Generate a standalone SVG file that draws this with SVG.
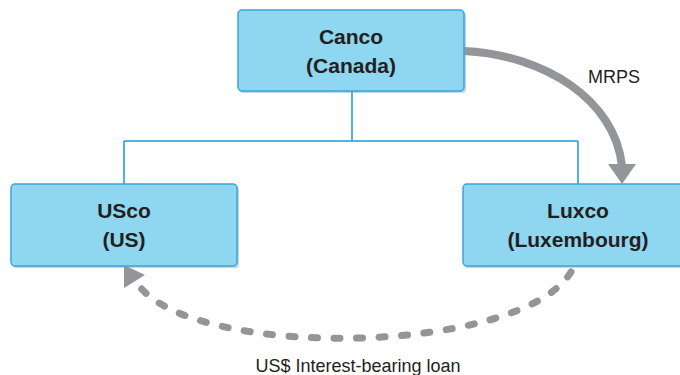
<svg xmlns="http://www.w3.org/2000/svg" width="680" height="375" viewBox="0 0 680 375">
<style>
.box{fill:#8fd6f0;stroke:#36a6dc;stroke-width:1.5}
.shadow{fill:#7f9fb4;opacity:0.45}
.t{font-family:"Liberation Sans",Arial,sans-serif;font-weight:bold;font-size:21px;fill:#231f20;text-anchor:middle}
.lbl{font-family:"Liberation Sans",Arial,sans-serif;font-size:18px;fill:#231f20;text-anchor:middle}
.tree{fill:none;stroke:#1a9ad6;stroke-width:1.5}
.arr{fill:none;stroke:#939598;stroke-width:8}
.dash{fill:none;stroke:#939598;stroke-width:7;stroke-dasharray:6 16.5;stroke-linecap:round}
.head{fill:#939598}
</style>
<g id="connectors">
<path class="tree" d="M352 91 V141 M124 141 H578 M124 141 V184 M578 141 V184"/>
<path class="arr" d="M464 51 C545 55 615 100 622 166"/>
<polygon class="head" points="608,164 636,164 622,184"/>
<path class="dash" d="M571 272 C520 355 200 360 140 287"/>
<polygon class="head" points="124,265 145,275 124,288"/>
<text class="lbl" x="614" y="83">MRPS</text>
<text class="lbl" x="358" y="372">US$ Interest-bearing loan</text>
</g>
<g id="canco">
<rect class="shadow" x="239" y="12" width="227" height="81" rx="4"/>
<rect class="box" x="238" y="10" width="226" height="81" rx="4"/>
<text class="t" x="351" y="44">Canco</text>
<text class="t" x="351" y="73">(Canada)</text>
</g>
<g id="usco">
<rect class="shadow" x="12" y="186" width="227" height="82" rx="4"/>
<rect class="box" x="11" y="184" width="226" height="82" rx="4"/>
<text class="t" x="124" y="218">USco</text>
<text class="t" x="124" y="247">(US)</text>
</g>
<g id="luxco">
<rect class="shadow" x="464" y="186" width="231" height="82" rx="4"/>
<rect class="box" x="463" y="184" width="230" height="82" rx="4"/>
<text class="t" x="578" y="218">Luxco</text>
<text class="t" x="578" y="247">(Luxembourg)</text>
</g>
</svg>
